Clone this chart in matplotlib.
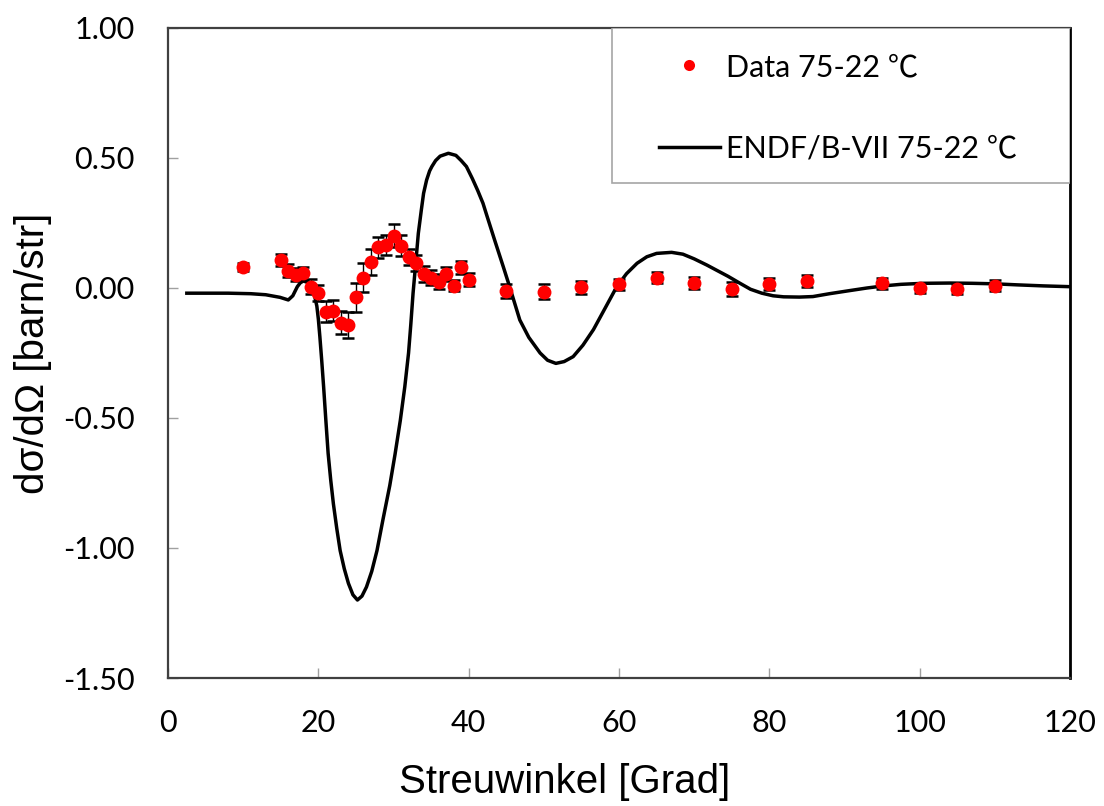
import numpy as np
import matplotlib
matplotlib.use('Agg')
import matplotlib.pyplot as plt
from matplotlib.patches import Rectangle

# measured data (Streuwinkel in Grad, dsigma/dOmega in barn/str)
data_angle = [10, 15, 16, 17, 18, 19, 20, 21, 22, 23, 24, 25, 26, 27, 28, 29, 30,
              31, 32, 33, 34, 35, 36, 37, 38, 39, 40, 45, 50, 55, 60, 65, 70, 75,
              80, 85, 95, 100, 105, 110]
data_xs = [0.082, 0.108, 0.067, 0.050, 0.056, 0.005, -0.020, -0.091, -0.087, -0.133,
           -0.142, -0.036, 0.040, 0.099, 0.156, 0.165, 0.201, 0.162, 0.120, 0.095,
           0.054, 0.040, 0.024, 0.053, 0.009, 0.080, 0.031, -0.012, -0.014, 0.003,
           0.014, 0.040, 0.020, -0.004, 0.014, 0.027, 0.018, -0.001, -0.005, 0.009]
data_err = [0.015, 0.022, 0.025, 0.025, 0.025, 0.030, 0.030, 0.040, 0.040, 0.045,
            0.050, 0.055, 0.055, 0.050, 0.040, 0.040, 0.045, 0.040, 0.030, 0.030,
            0.030, 0.028, 0.028, 0.028, 0.022, 0.025, 0.025, 0.028, 0.028, 0.025,
            0.022, 0.022, 0.024, 0.026, 0.023, 0.023, 0.020, 0.020, 0.020, 0.020]

# ENDF/B-VII curve
endf_angle = [2.5, 5, 8, 11, 13, 14.9, 16.0, 16.6, 17.2, 17.6, 18.0, 18.5, 19.1, 19.5,
              19.8, 20.0, 20.2, 20.45, 20.7, 21.0, 21.3, 21.65, 22.0, 22.45, 22.9, 23.45,
              24.0, 24.6, 25.2, 25.8, 26.4, 27.1, 27.8, 28.6, 29.5, 30.2, 30.9, 31.5,
              32.0, 32.3, 32.6, 33.0, 33.3, 33.7, 34.0, 34.4, 34.8, 35.1, 35.6, 36.2,
              37.3, 38.3, 39.0, 39.7, 40.5, 41.2, 41.9, 42.4, 43.5, 44.6, 45.5, 46.8,
              48.0, 49.5, 50.5, 51.6, 52.7, 53.9, 55.2, 56.6, 58.2, 59.7, 61.0, 62.4,
              63.7, 65.0, 67.0, 68.5, 70.0, 71.7, 73.0, 74.5, 76.1, 77.5, 79.0, 80.5,
              81.9, 84.0, 85.8, 88.0, 90.7, 93.0, 95.2, 97.5, 100.5, 104, 107, 110,
              113, 116.5, 120]
endf_xs = [-0.020, -0.020, -0.020, -0.022, -0.026, -0.036, -0.046, -0.030, 0.005, 0.020,
           0.027, 0.022, -0.005, -0.030, -0.070, -0.120, -0.187, -0.280, -0.380, -0.510,
           -0.636, -0.740, -0.830, -0.925, -1.010, -1.080, -1.136, -1.180, -1.200,
           -1.185, -1.150, -1.090, -1.010, -0.890, -0.760, -0.640, -0.510, -0.380,
           -0.250, -0.140, -0.020, 0.110, 0.210, 0.300, 0.364, 0.415, 0.450, 0.467,
           0.490, 0.507, 0.518, 0.510, 0.490, 0.467, 0.420, 0.375, 0.326, 0.280, 0.180,
           0.082, 0.000, -0.123, -0.190, -0.250, -0.278, -0.290, -0.283, -0.264, -0.220,
           -0.160, -0.075, 0.005, 0.055, 0.095, 0.120, 0.133, 0.137, 0.130, 0.112,
           0.088, 0.068, 0.045, 0.018, -0.005, -0.020, -0.030, -0.034, -0.035, -0.033,
           -0.022, -0.010, 0.000, 0.008, 0.014, 0.018, 0.019, 0.018, 0.016, 0.012,
           0.008, 0.005]

y_ticks = [1.0, 0.5, 0.0, -0.5, -1.0, -1.5]
x_ticks = [0, 20, 40, 60, 80, 100, 120]

tick_font = ['Lato', 'Noto Sans CJK JP', 'DejaVu Sans']
label_font = 'Liberation Sans'

fig = plt.figure(figsize=(11.04, 8.06), dpi=100)
ax = fig.add_axes([0.1522, 0.1588, 0.8170, 0.8065])

ax.plot(endf_angle, endf_xs, color='black', lw=2.5, label='ENDF/B-VII 75-22 \u2103', zorder=3)
ax.errorbar(data_angle, data_xs, yerr=data_err, fmt='none', ecolor='black',
            elinewidth=1.0, capsize=4.5, capthick=1.8, zorder=4)
ax.plot(data_angle, data_xs, 'o', color='#ff0000', ms=10, mec='none',
        label='Data 75-22 \u2103', zorder=5)

ax.set_xlim(0, 120)
ax.set_ylim(-1.5, 1.0)
ax.set_xticks(x_ticks)
ax.set_xticklabels([str(t) for t in x_ticks], fontsize=22, family=tick_font)
ax.set_yticks(y_ticks)
ax.set_yticklabels(['{:.2f}'.format(t) for t in y_ticks], fontsize=22, family=tick_font)
ax.tick_params(axis='both', direction='in', length=7, width=1, color='#a0a0a0')
ax.tick_params(axis='x', pad=22)
ax.tick_params(axis='y', pad=24)

for side in ['left', 'bottom', 'top']:
    ax.spines[side].set_color('#404040')
    ax.spines[side].set_linewidth(1.6)
ax.spines['right'].set_color('black')
ax.spines['right'].set_linewidth(2)

ax.set_xlabel('Streuwinkel [Grad]', fontsize=29, family=label_font)
ax.xaxis.set_label_coords(0.44, -0.131)
ax.set_ylabel('d\u03c3/d\u03a9 [barn/str]', fontsize=29, family=label_font, labelpad=8)

# legend box
ax.add_patch(Rectangle((0.492, 0.7615), 0.508, 0.2385, transform=ax.transAxes,
                       facecolor='white', edgecolor='#a6a6a6', lw=1.2, zorder=6))
handles, labels = ax.get_legend_handles_labels()
leg = ax.legend(handles[::-1], labels[::-1], loc='upper left', bbox_to_anchor=(0.527, 0.985),
                frameon=False, prop={'family': tick_font, 'size': 22}, handlelength=2.0,
                handletextpad=0.2, labelspacing=1.75, borderpad=0, markerscale=0.8)
leg.set_zorder(7)

plt.savefig('out.png', dpi=100)
plt.close()
